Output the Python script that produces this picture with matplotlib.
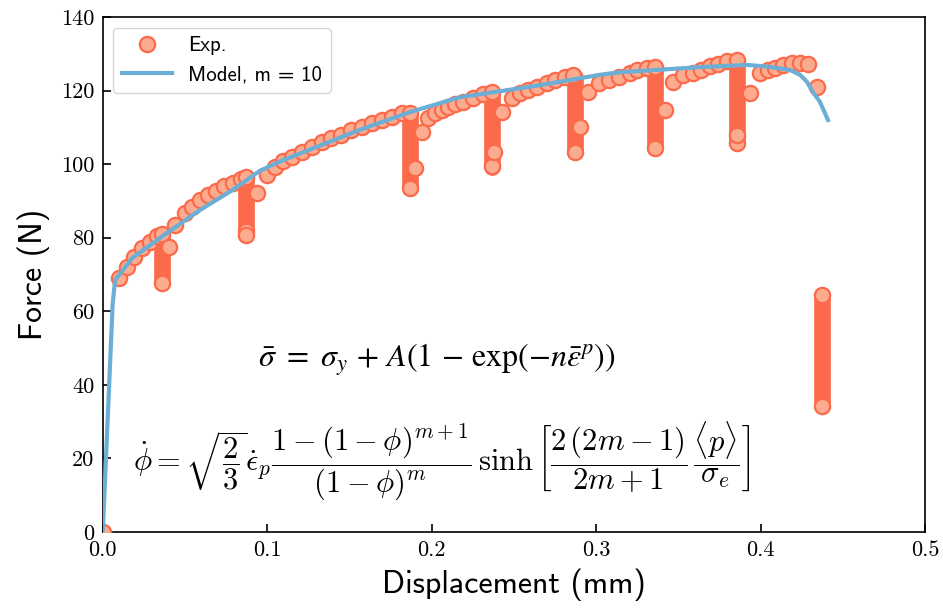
import matplotlib.pyplot as plt
import numpy as np

# experimental points (light markers) in the order they were recorded
exp_x = [0.0, 0.010, 0.015, 0.019, 0.024, 0.029, 0.033, 0.036,
         0.036, 0.040, 0.044, 0.050, 0.054, 0.059, 0.064, 0.069, 0.074, 0.079, 0.084, 0.087,
         0.087, 0.087, 0.094, 0.100, 0.105, 0.1095, 0.115, 0.121, 0.127, 0.133, 0.139, 0.145,
         0.151, 0.1575, 0.1635, 0.170, 0.176, 0.182, 0.187,
         0.187, 0.190, 0.194, 0.198, 0.202, 0.206, 0.210, 0.214, 0.219, 0.225, 0.231, 0.2366,
         0.2366, 0.238, 0.2425, 0.249, 0.2535, 0.2585, 0.264, 0.270, 0.275, 0.281, 0.286,
         0.287, 0.290, 0.295, 0.302, 0.308, 0.314, 0.3205, 0.325, 0.331, 0.336,
         0.336, 0.342, 0.347, 0.353, 0.359, 0.364, 0.369, 0.374, 0.3795, 0.3856,
         0.3856, 0.3856, 0.3935, 0.3996, 0.4045, 0.409, 0.4136, 0.419, 0.424, 0.429, 0.434,
         0.4373, 0.4373]
exp_y = [0.0, 69.0, 72.0, 74.7, 77.2, 78.8, 80.5, 81.0,
         67.8, 77.5, 83.4, 86.7, 88.3, 90.2, 91.5, 92.8, 94.0, 95.0, 96.0, 96.5,
         81.8, 80.7, 92.2, 97.0, 99.2, 101.0, 102.0, 103.3, 104.7, 106.0, 107.0, 108.0,
         109.3, 110.1, 111.2, 112.0, 112.8, 114.0, 113.8,
         93.5, 99.0, 108.7, 112.5, 113.9, 114.7, 115.5, 116.3, 116.8, 118.0, 119.0, 119.6,
         99.5, 103.3, 114.2, 118.0, 119.3, 120.1, 121.0, 122.0, 122.9, 123.7, 124.2,
         103.3, 110.0, 119.6, 122.0, 122.9, 123.7, 124.8, 125.6, 126.2, 126.4,
         104.4, 114.7, 122.3, 124.2, 124.8, 125.6, 126.6, 127.3, 128.0, 128.3,
         105.7, 107.9, 119.3, 124.8, 125.6, 126.1, 126.9, 127.5, 127.5, 127.2, 121.0,
         64.5, 34.2]

# unloading steps: dense runs of points at one displacement
col_x = [0.036, 0.087, 0.187, 0.2366, 0.287, 0.336, 0.3856, 0.4373]
col_top = [81.0, 96.0, 113.5, 119.5, 123.7, 125.6, 126.4, 64.5]
col_bot = [67.8, 80.7, 93.5, 99.2, 103.2, 104.4, 105.7, 34.2]

model_x = [0.0, 0.006, 0.0075, 0.018, 0.039, 0.059, 0.079, 0.0955, 0.108, 0.156, 0.187,
           0.217, 0.266, 0.302, 0.3145, 0.363, 0.392, 0.405, 0.418, 0.424, 0.428, 0.432,
           0.436, 0.441]
model_y = [0.0, 62.0, 68.5, 74.5, 81.3, 87.5, 93.0, 98.2, 100.8, 109.3, 114.2,
           118.2, 121.5, 124.3, 125.0, 126.4, 127.0, 126.5, 125.6, 124.3, 122.5, 119.5,
           117.0, 112.0]

xticks = [0.0, 0.1, 0.2, 0.3, 0.4, 0.5]
xtick_labels = ['0.0', '0.1', '0.2', '0.3', '0.4', '0.5']
yticks = [0, 20, 40, 60, 80, 100, 120, 140]
ytick_labels = ['0', '20', '40', '60', '80', '100', '120', '140']

plt.rcParams['mathtext.fontset'] = 'cm'

fig = plt.figure(figsize=(9.43, 6.12), dpi=100)
ax = fig.add_axes([0.109, 0.131, 0.872, 0.841])

edge = '#fb6a4a'
face = '#fcab8e'

for x, top, bot in zip(col_x, col_top, col_bot):
    ax.plot([x, x], [bot, top], color=edge, lw=12, solid_capstyle='round', zorder=2)
ax.plot(exp_x, exp_y, 'o', ms=11, mfc=face, mec=edge, mew=1.6, label='Exp.', zorder=3)
ax.plot(model_x, model_y, color='#6baed6', lw=3, label='Model, m = 10', zorder=4)

ax.set_xlim(0, 0.5)
ax.set_ylim(0, 140)
ax.set_xticks(xticks)
ax.set_xticklabels(xtick_labels, fontfamily='cmr10')
ax.set_yticks(yticks)
ax.set_yticklabels(ytick_labels, fontfamily='cmr10')
ax.tick_params(direction='in', length=6, width=1.2, labelsize=16, pad=6)
for s in ax.spines.values():
    s.set_linewidth(1.2)

ax.set_xlabel('Displacement (mm)', fontfamily='cmss10', fontsize=23, labelpad=6)
ax.set_ylabel('Force (N)', fontfamily='cmss10', fontsize=23, labelpad=8)

ax.legend(loc='upper left', numpoints=1, handlelength=2.4,
          prop={'family': 'cmss10', 'size': 15}, edgecolor='#cccccc')

ax.text(0.406, 0.334,
        r'$\bar{\sigma}\ =\ \sigma_y\,+\,A(1\,-\,\exp(-n\bar{\varepsilon}^p))$',
        transform=ax.transAxes, ha='center', va='center', fontsize=23,
        math_fontfamily='stix')
ax.text(0.412, 0.136,
        r'$\dot{\phi} = \sqrt{\dfrac{2}{3}}\dot{\epsilon}_p\dfrac{1-(1-\phi)^{m+1}}{(1-\phi)^m}'
        r'\,\sinh\left[\dfrac{2\,(2m-1)}{2m+1}\,\dfrac{\langle p\rangle}{\sigma_e}\right]$',
        transform=ax.transAxes, ha='center', va='center', fontsize=22)

fig.savefig('out.png', dpi=100)
